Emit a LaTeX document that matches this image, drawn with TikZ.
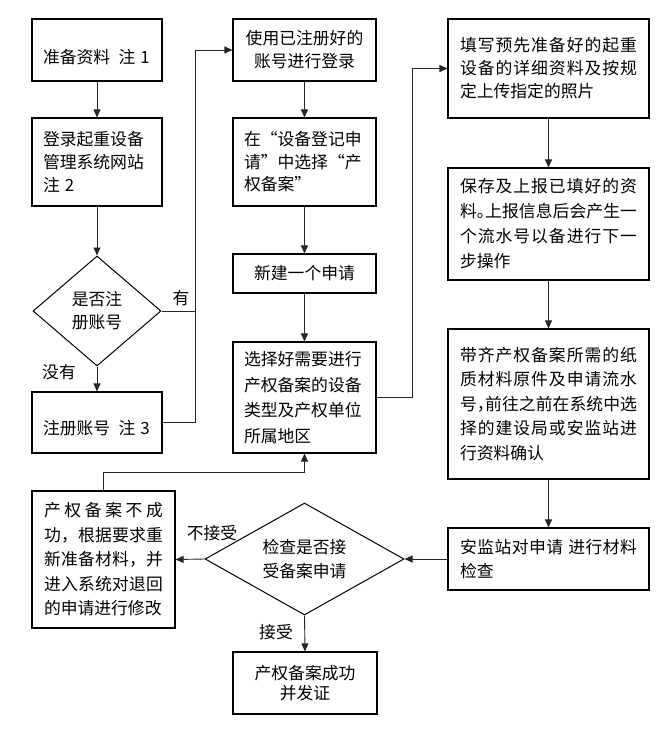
\documentclass[tikz,border=0pt]{standalone}
\usepackage{fontspec}
\newfontfamily\cjk{Noto Sans CJK SC}
\usetikzlibrary{arrows.meta,shapes.geometric}
\XeTeXinterchartokenstate=1
\count255="4E00
\loop
  \XeTeXcharclass\count255=250
  \advance\count255 by 1
\ifnum\count255<"A000 \repeat
\XeTeXcharclass"FF0C=251
\XeTeXcharclass"3002=251
\XeTeXinterchartoks 250 250 = {\hskip0pt plus 5pt\relax}
\XeTeXinterchartoks 250 251 = {\nobreak\hskip0pt plus 5pt\relax}
\XeTeXinterchartoks 251 250 = {\hskip0pt plus 5pt\relax}
\tikzset{
 box/.style={draw=black, line width=1.1pt, rectangle, inner xsep=11pt, inner ysep=0pt},
 fs/.style={font=\cjk\fontsize{16.8pt}{#1pt}\selectfont},
 fs/.default=24,
 dia/.style={draw=black, line width=1pt, diamond, inner sep=0pt, align=center},
 arr/.style={draw=black!85, line width=0.9pt, -{Triangle[length=8pt,width=7pt]}},
 ln/.style={draw=black!85, line width=0.9pt},
 lbl/.style={font=\cjk\fontsize{16.8pt}{20pt}\selectfont, inner sep=0pt},
}
\begin{document}
\begin{tikzpicture}[x=1pt,y=-1pt]
\useasboundingbox (0,0) rectangle (670,734);
\fill[white] (0,0) rectangle (670,734);

% left column
\node[box,fs,minimum width=130pt,minimum height=62pt,text width=108pt,align=flush left,text height=26.8pt,text depth=0pt] (b1) at (97,50) {准备资料\hspace{0.5em}注\hspace{0.3em}1};
\node[box,fs=23,minimum width=130pt,minimum height=88pt,text width=108pt,align=flush left] (b2) at (97,162) {登录起重设备\\管理系统网站\\注\hspace{0.3em}2};
\node[dia,fs=23,minimum width=128pt,minimum height=110pt] (d1) at (97,311) {是否注\\册账号};
\node[box,fs,minimum width=130pt,minimum height=61pt,text width=108pt,align=flush left,text height=23.8pt,text depth=0pt] (b3) at (97,422.5) {注册账号\hspace{0.5em}注\hspace{0.3em}3};

% middle column
\node[box,fs=23,minimum width=143pt,minimum height=62pt,text width=121pt,align=flush center] (c1) at (304.5,50) {使用已注册好的\\账号进行登录};
\node[box,fs=22.5,minimum width=143pt,minimum height=88pt,text width=121pt,align=flush left] (c2) at (304.5,162) {在\makebox[1em][r]{“}设备登记申\\请\makebox[1em][l]{”}中选择\makebox[1em][r]{“}产\\权备案\makebox[1em][l]{”}};
\node[box,fs,minimum width=143pt,minimum height=39pt,text width=121pt,align=flush center] (c3) at (304.5,273.5) {新建一个申请};
\node[box,fs=25.5,minimum width=143pt,minimum height=111pt,text width=121pt,align=flush left] (c4) at (304.5,397.5) {选择好需要进行\\产权备案的设备\\类型及产权单位\\所属地区};

% right column
\node[box,fs=23,inner xsep=12pt,minimum width=201pt,minimum height=99pt,text width=177pt,align=justify] (r1) at (548.5,68.5) {填写预先准备好的起重\break 设备的详细资料及按规\break 定上传指定的照片};
\node[box,fs=25,inner xsep=12pt,minimum width=201pt,minimum height=112pt,text width=177pt,align=justify] (r2) at (548.5,224) {保存及上报已填好的资\break 料\makebox[0.5em][l]{。}上报信息后会产生一\break 个流水号以备进行下一\break 步操作};
\node[box,fs=24.5,inner xsep=12pt,minimum width=201pt,minimum height=150pt,text width=177pt,align=justify] (r3) at (548.5,404) {带齐产权备案所需的纸\break 质材料原件及申请流水\break 号\makebox[0.5em][l]{，}前往之前在系统中选\break 择的建设局或安监站进\break 行资料确认};
\node[box,fs,inner xsep=12pt,minimum width=201pt,minimum height=62pt,text width=177pt,align=justify] (r4) at (548.5,559) {安监站对申请\hspace{0.3em}进行材料\break 检查};

% bottom
\node[dia,fs,aspect=2,minimum width=199pt,minimum height=112pt] (d2) at (304.5,559) {检查是否接\\受备案申请};
\node[box,fs=24.5,inner xsep=12pt,minimum width=143pt,minimum height=137pt,text width=119pt,align=justify] (L) at (103.5,559.5) {产权备案不成\break 功，根据要求重\break 新准备材料，并\break 进入系统对退回\break 的申请进行修改};
\node[box,fs=20,minimum width=144pt,minimum height=62pt,text width=122pt,align=flush center] (B) at (305,683) {产权备案成功\\并发证};

% labels
\node[lbl] (t1) at (181,298) {有};
\node[lbl] (t2) at (59,372) {没有};
\node[lbl] (t3) at (212,533) {不接受};
\node[lbl] (t4) at (276,632) {接受};

% connectors
\draw[arr] (b1.south) -- (b2.north);
\draw[arr] (b2.south) -- (d1.north);
\draw[arr] (d1.south) -- (b3.north);
\coordinate (j1) at (195,422.5);
\draw[arr] (b3.east) -- (j1) |- (c1.west);
\draw[ln] (d1.east) -- (d1.east -| j1);
\draw[arr] (c1.south) -- (c2.north);
\draw[arr] (c2.south) -- (c3.north);
\draw[arr] (c3.south) -- (c4.north);
\coordinate (j2) at (412,397.5);
\draw[arr] (c4.east) -- (j2) |- (r1.west);
\draw[arr] (r1.south) -- (r2.north);
\draw[arr] (r2.south) -- (r3.north);
\draw[arr] (r3.south) -- (r4.north);
\draw[arr] (r4.west) -- (d2.east);
\draw[arr] (d2.west) -- (L.east);
\draw[arr] (d2.south) -- (B.north);
\coordinate (j3) at (103.5,472);
\draw[arr] (L.north) -- (j3) -| (c4.south);
\end{tikzpicture}
\end{document}
